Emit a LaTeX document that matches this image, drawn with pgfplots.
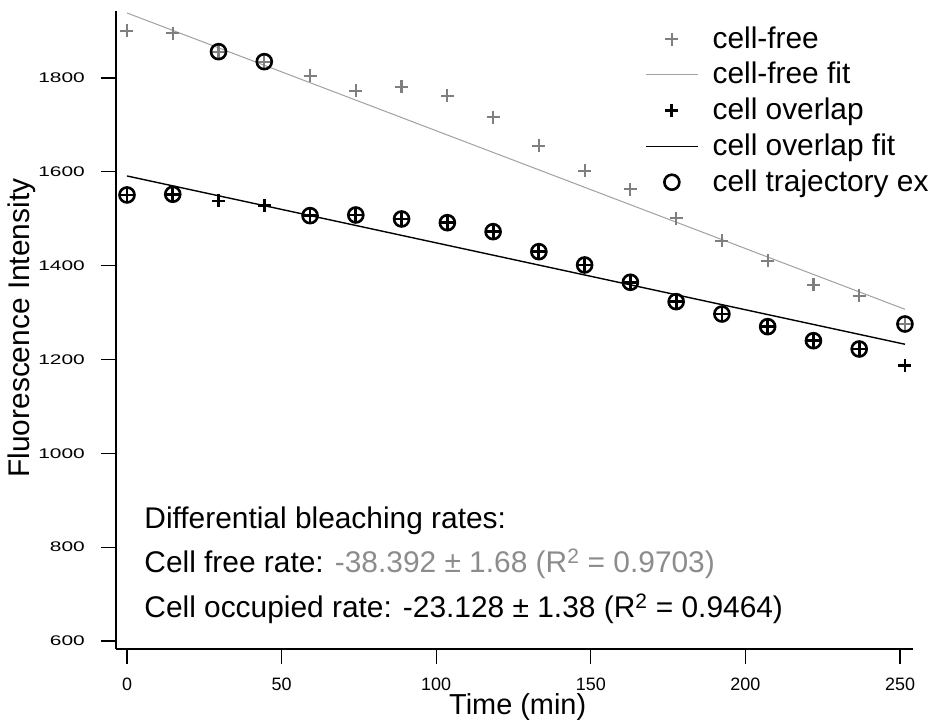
\documentclass[border=0pt]{standalone}
\usepackage{fontspec}
\usepackage{graphicx}
\usepackage{pgfplots}
\pgfplotsset{compat=1.18}
\setmainfont{Liberation Sans}

\definecolor{freegray}{HTML}{7F7F7F}
\definecolor{fitgray}{HTML}{A0A0A0}
\definecolor{txtgray}{HTML}{8C8C8C}

% wide, short digits for the intensity axis
\newcommand{\wide}[1]{\scalebox{1.5}[1]{#1}}

% measured intensities, one row per frame
\pgfplotstableread{
t      free    overlap
0      1900.2  1550.7
14.8   1895.3  1552.2
29.6   1856.1  1537.9
44.4   1834.8  1527.9
59.2   1804.3  1506.6
74.0   1772.3  1508.0
88.8   1781.5  1499.5
103.6  1762.4  1491.6
118.4  1716.3  1472.5
133.2  1655.1  1429.8
148.0  1602.5  1401.5
162.8  1562.8  1364.6
177.6  1501.0  1323.3
192.4  1453.3  1297.0
207.2  1410.0  1270.0
222.0  1358.9  1240.1
236.8  1336.1  1222.4
251.6  1275.7  1186.8
}\datatable

% example cell trajectory (switches between regions)
\pgfplotstableread{
t      y
0      1550.7
14.8   1552.2
29.6   1856.1
44.4   1834.8
59.2   1506.6
74.0   1508.0
88.8   1499.5
103.6  1491.6
118.4  1472.5
133.2  1429.8
148.0  1401.5
162.8  1364.6
177.6  1323.3
192.4  1297.0
207.2  1270.0
222.0  1240.1
236.8  1222.4
251.6  1275.7
}\trajtable

\begin{document}
\begin{tikzpicture}
\path[use as bounding box] (-116bp,-75bp) rectangle (817bp,649bp);
\begin{axis}[
  scale only axis, width=797bp, height=638bp,
  xmin=-3.557, xmax=254.2, ymin=583, ymax=1942.8,
  axis lines=left,
  axis line style={-, line width=1.2bp, black},
  tick align=outside, major tick length=15bp,
  tick style={line width=1.2bp, black},
  xtick={0,50,...,250}, ytick={600,800,1000,1200,1400,1600,1800},
  yticklabels={\wide{600},\wide{800},\wide{1000},\wide{1200},\wide{1400},\wide{1600},\wide{1800}},
  minor tick num=0,
  /pgf/number format/1000 sep={},
  /pgf/number format/assume math mode=true,
  xticklabel style={font=\fontsize{18}{18}\selectfont, inner sep=0pt, yshift=-14bp},
  yticklabel style={font=\fontsize{14}{14}\selectfont, inner sep=0pt, xshift=-16bp},
  xlabel={Time (min)},
  ylabel={Fluorescence Intensity},
  every axis x label/.style={at={(axis description cs:0.504,-0.1034)}, anchor=base, font=\fontsize{29}{29}\selectfont},
  every axis y label/.style={at={(axis description cs:-0.118,0.503)}, anchor=center, rotate=90, font=\fontsize{30}{30}\selectfont},
  legend image code/.code={\draw[mark repeat=2,mark phase=2,#1] plot coordinates {(0bp,0bp) (26bp,0bp) (52bp,0bp)};},
  legend style={at={(0.6637,0.9796)}, anchor=north west, draw=none, fill=none,
    inner sep=0pt, column sep=14bp, row sep=5.75bp,
    font=\fontsize{30}{30}\selectfont,
    nodes={inner sep=0pt, text height=24bp, text depth=6bp}},
  legend cell align=left,
]
\addplot[only marks, mark=+, mark size=6.5bp, color=freegray, line width=2.2bp]
  table[x=t, y=free] {\datatable};
\addlegendentry{cell-free}
\addplot[fitgray, line width=1bp] coordinates {(0,1938.6) (251.6,1307.0)};
\addlegendentry{cell-free fit}
\addplot[only marks, mark=+, mark size=6.5bp, color=black, line width=2.8bp]
  table[x=t, y=overlap] {\datatable};
\addlegendentry{cell overlap}
\addplot[black, line width=1.4bp] coordinates {(0,1591.2) (251.6,1232.5)};
\addlegendentry{cell overlap fit}
\addplot[only marks, mark=o, mark size=7.5bp, color=black, line width=2.6bp, mark options={fill=none}]
  table[x=t, y=y] {\trajtable};
\addlegendentry{cell trajectory ex}

\node[anchor=base west, font=\fontsize{30}{30}\selectfont] at (axis cs:4.5,838.8) {Differential bleaching rates:};
\node[anchor=base west, font=\fontsize{30}{30}\selectfont] at (axis cs:4.5,745.0) {Cell free rate: \textcolor{txtgray}{-38.392 ± 1.68 (R\textsuperscript{2} = 0.9703)}};
\node[anchor=base west, font=\fontsize{30}{30}\selectfont] at (axis cs:4.5,649.1) {Cell occupied rate: -23.128 ± 1.38 (R\textsuperscript{2} = 0.9464)};
\end{axis}
\end{tikzpicture}
\end{document}
